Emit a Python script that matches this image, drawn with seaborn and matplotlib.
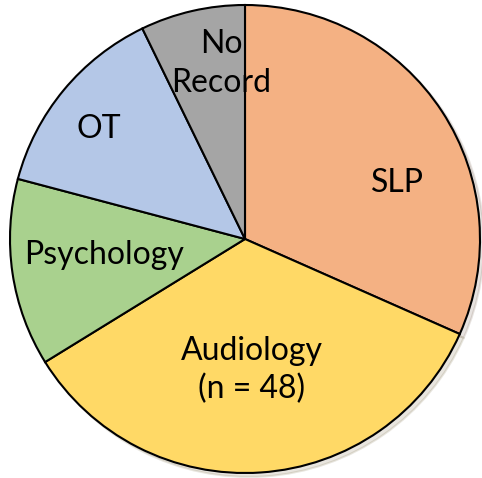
import matplotlib
matplotlib.use("Agg")
import matplotlib.pyplot as plt
import seaborn as sns

# Referral counts by discipline
categories = ["SLP", "Audiology", "Psychology", "OT", "No Record"]
counts = [44, 48, 18, 19, 10]
labels = ["SLP", "Audiology\n(n = 48)", "Psychology", "OT", "No\nRecord"]

colors = ["#F4B183", "#FFD966", "#A9D18E", "#B4C7E7", "#A5A5A5"]
# where each label sits (pie radius units)
label_pos = [(0.65, 0.24), (0.03, -0.56), (-0.60, -0.07), (-0.62, 0.47), (-0.10, 0.75)]

sns.set_theme(style="white")
plt.rcParams["font.family"] = ["Lato", "DejaVu Sans"]

fig = plt.figure(figsize=(4.82, 4.78), dpi=100)
ax = fig.add_axes([0, 0, 1, 1])

wedges, _ = ax.pie(
    counts,
    colors=colors,
    startangle=90,
    counterclock=False,
    wedgeprops={"edgecolor": "black", "linewidth": 1.5},
    shadow={"ox": 0.012, "oy": -0.012, "shade": 0.6, "alpha": 0.15},
)

for lab, (x, y) in zip(labels, label_pos):
    ax.text(x, y, lab, ha="center", va="center", fontsize=23, color="black",
            linespacing=1.35)

ax.set_xlim(-245 / 235, 237 / 235)
ax.set_ylim(-239 / 234, 239 / 234)
ax.set_aspect("auto")
ax.axis("off")

fig.savefig("out.png", dpi=100, facecolor="white")
